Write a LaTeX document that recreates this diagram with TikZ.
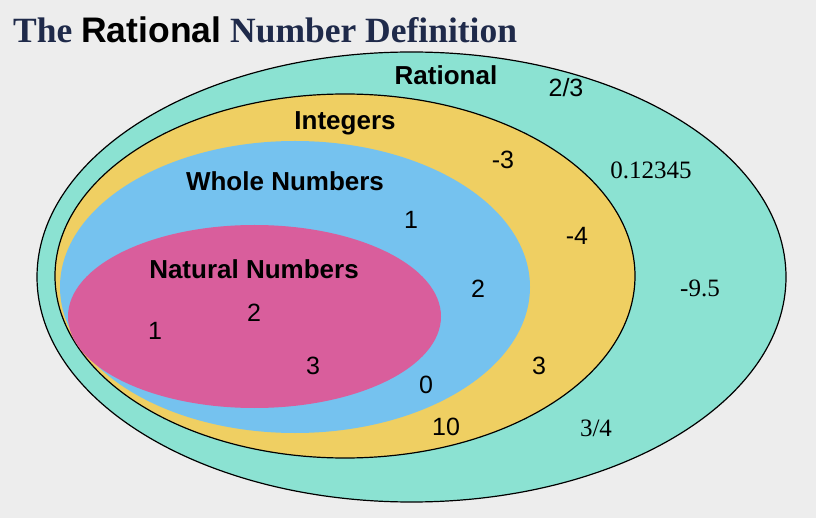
\documentclass[tikz,border=0pt]{standalone}
\usepackage{fontspec}
\setmainfont{Liberation Serif}
\setsansfont{Liberation Sans}
\definecolor{bgpage}{HTML}{EDEDED}
\definecolor{ratfill}{HTML}{8BE2D2}
\definecolor{intfill}{HTML}{EFCF62}
\definecolor{wholefill}{HTML}{75C2EF}
\definecolor{natfill}{HTML}{D95E9C}
\definecolor{titlenavy}{HTML}{1F2A4A}
\begin{document}
\begin{tikzpicture}[x=1pt,y=-1pt]
    \tikzstyle{setname}=[font=\sffamily\bfseries\fontsize{26}{26}\selectfont, inner sep=0pt]
    \tikzstyle{num}=[font=\sffamily\fontsize{25}{25}\selectfont, inner sep=0pt]
    \tikzstyle{snum}=[font=\rmfamily\fontsize{25}{25}\selectfont, inner sep=0pt]
    \fill[bgpage] (0,0) rectangle (816,518);
    \useasboundingbox (0,0) rectangle (816,518);
    % the four sets
    \filldraw[fill=ratfill, draw=black, line width=1.2pt] (411.5,277) ellipse [x radius=374.5pt, y radius=225pt];
    \filldraw[fill=intfill, draw=black, line width=1.2pt] (345,276) ellipse [x radius=290pt, y radius=182pt];
    \fill[wholefill] (295,287) ellipse [x radius=235pt, y radius=146pt];
    \fill[natfill] (254.5,316.5) ellipse [x radius=186.5pt, y radius=91.5pt];
    % title
    \node[anchor=base west, inner sep=0pt, text=titlenavy, font=\rmfamily\bfseries\fontsize{35.5}{35.5}\selectfont] (title) at (13,43)
      {The {\sffamily\color{black}Rational} Number Definition};
    % set names
    \node[setname] (rat) at (446,75) {Rational};
    \node[setname] (int) at (345,123) {Integers};
    \node[setname] (whole) at (285,181) {Whole Numbers};
    \node[setname] (nat) at (254,269) {Natural Numbers};
    % members
    \node[num] (r1) at (566,88) {2/3};
    \node[snum] (r2) at (651,170) {0.12345};
    \node[snum] (r3) at (700,288) {-9.5};
    \node[snum] (r4) at (596,428) {3/4};
    \node[num] (i1) at (503,160) {-3};
    \node[num] (i2) at (577,236) {-4};
    \node[num] (i3) at (539,366) {3};
    \node[num] (i4) at (446,427) {10};
    \node[num] (w1) at (411,220) {1};
    \node[num] (w2) at (478,289) {2};
    \node[num] (w3) at (426,385) {0};
    \node[num] (n1) at (155,331) {1};
    \node[num] (n2) at (254,313) {2};
    \node[num] (n3) at (313,366) {3};
  \end{tikzpicture}
\end{document}
